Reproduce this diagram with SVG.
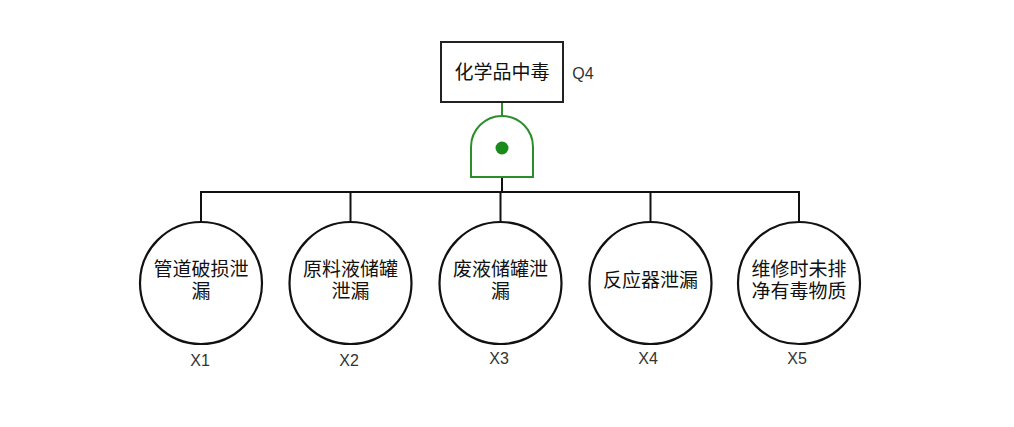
<svg xmlns="http://www.w3.org/2000/svg" width="1014" height="427" viewBox="0 0 1014 427">
<style>
.box{fill:#fff;stroke:#222;stroke-width:2}
.ev{fill:#fff;stroke:#111;stroke-width:2.2}
.t{font-family:"Liberation Sans","Noto Sans CJK SC",sans-serif;font-size:19px;fill:#111;text-anchor:middle;dominant-baseline:central}
.lb{font-family:"Liberation Sans",Arial,sans-serif;font-size:16px;fill:#333;text-anchor:middle;dominant-baseline:central}
.g{fill:#fff;stroke:#2a8f2a;stroke-width:2}
.c{fill:none;stroke:#111;stroke-width:2}
</style>
<rect width="1014" height="427" fill="#fff"/>
<g id="connectors">
<line x1="502" y1="102" x2="502" y2="116" stroke="#2a8f2a" stroke-width="2"/>
<line x1="502" y1="177" x2="502" y2="192" class="c"/>
<polyline class="c" points="201,222 201,192 799,192 799,222"/>
<line x1="350.5" y1="192" x2="350.5" y2="222" class="c"/>
<line x1="500.5" y1="192" x2="500.5" y2="222" class="c"/>
<line x1="650.5" y1="192" x2="650.5" y2="222" class="c"/>
</g>
<g id="Q4">
<rect class="box" x="441" y="42" width="122" height="60"/>
<text class="t" x="502" y="72">化学品中毒</text>
<text class="lb" x="583" y="73">Q4</text>
</g>
<g id="gate">
<path class="g" d="M471,177 L471,147 A31,31 0 0 1 533,147 L533,177 Z"/>
<circle cx="502" cy="148" r="6.5" fill="#1a8a1a"/>
</g>
<g id="X1">
<circle class="ev" cx="201" cy="283" r="61"/>
<text class="t" x="201" y="269">管道破损泄</text>
<text class="t" x="201" y="291">漏</text>
<text class="lb" x="200" y="360">X1</text>
</g>
<g id="X2">
<circle class="ev" cx="350.5" cy="283" r="61"/>
<text class="t" x="350.5" y="269">原料液储罐</text>
<text class="t" x="350.5" y="291">泄漏</text>
<text class="lb" x="349" y="360">X2</text>
</g>
<g id="X3">
<circle class="ev" cx="500.5" cy="283" r="61"/>
<text class="t" x="500.5" y="269">废液储罐泄</text>
<text class="t" x="500.5" y="291">漏</text>
<text class="lb" x="499" y="358">X3</text>
</g>
<g id="X4">
<circle class="ev" cx="650.5" cy="283" r="61"/>
<text class="t" x="650.5" y="280">反应器泄漏</text>
<text class="lb" x="648" y="358">X4</text>
</g>
<g id="X5">
<circle class="ev" cx="799" cy="283" r="61"/>
<text class="t" x="799" y="269">维修时未排</text>
<text class="t" x="799" y="291">净有毒物质</text>
<text class="lb" x="797" y="358">X5</text>
</g>
</svg>
